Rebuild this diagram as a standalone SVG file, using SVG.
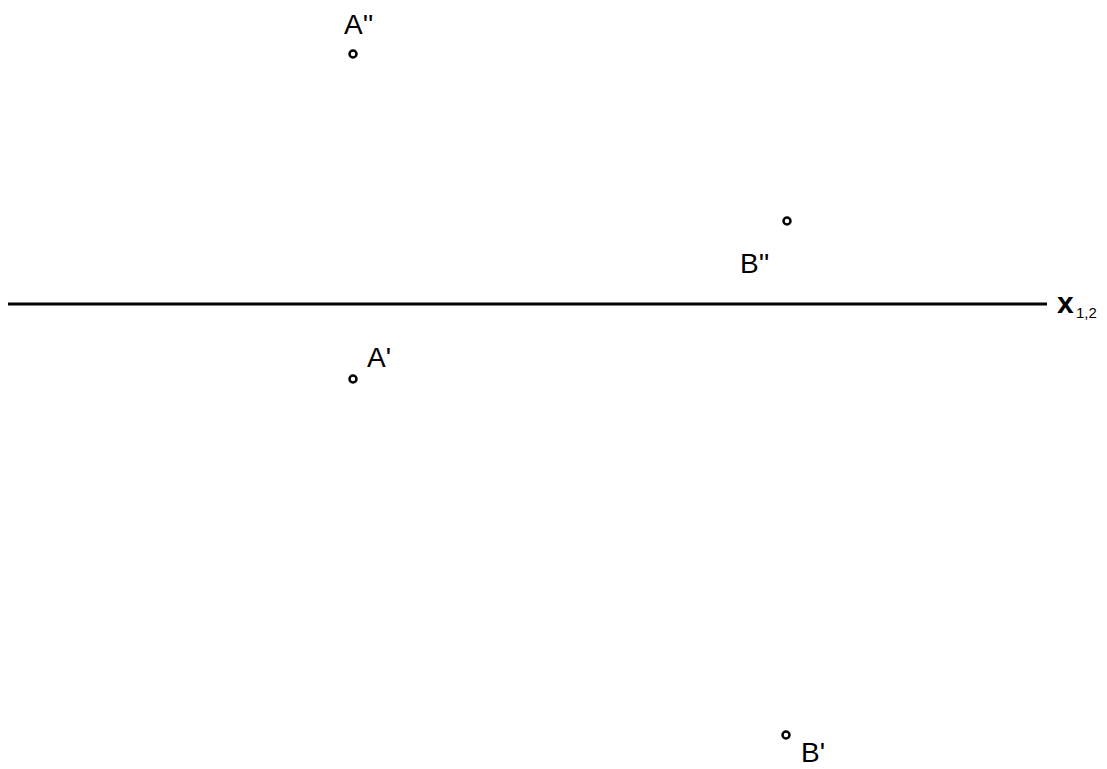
<svg xmlns="http://www.w3.org/2000/svg" width="1107" height="769" viewBox="0 0 1107 769">
<style>
.pt{fill:none;stroke:#000;stroke-width:2.5}
.lb{font-family:"Liberation Sans",Arial,sans-serif;font-size:28px;fill:#000}
.sub{font-family:"Liberation Sans",Arial,sans-serif;font-size:15px;fill:#000}
</style>
<rect width="1107" height="769" fill="#fff"/>
<g id="connectors">
<line x1="8" y1="304" x2="1047" y2="304" stroke="#000" stroke-width="3"/>
</g>
<g id="A2"><circle class="pt" cx="353" cy="54" r="3.5"/><text class="lb" x="344" y="34">A''</text></g>
<g id="B2"><circle class="pt" cx="787" cy="221" r="3.5"/><text class="lb" x="740" y="273">B''</text></g>
<g id="A1"><circle class="pt" cx="353" cy="379" r="3.5"/><text class="lb" x="367" y="367">A'</text></g>
<g id="B1"><circle class="pt" cx="786" cy="735" r="3.5"/><text class="lb" x="801" y="762">B'</text></g>
<g id="x12"><text class="lb" x="1057" y="313" style="font-size:30px;font-weight:bold">x</text><text class="sub" x="1076" y="318">1,2</text></g>
</svg>
